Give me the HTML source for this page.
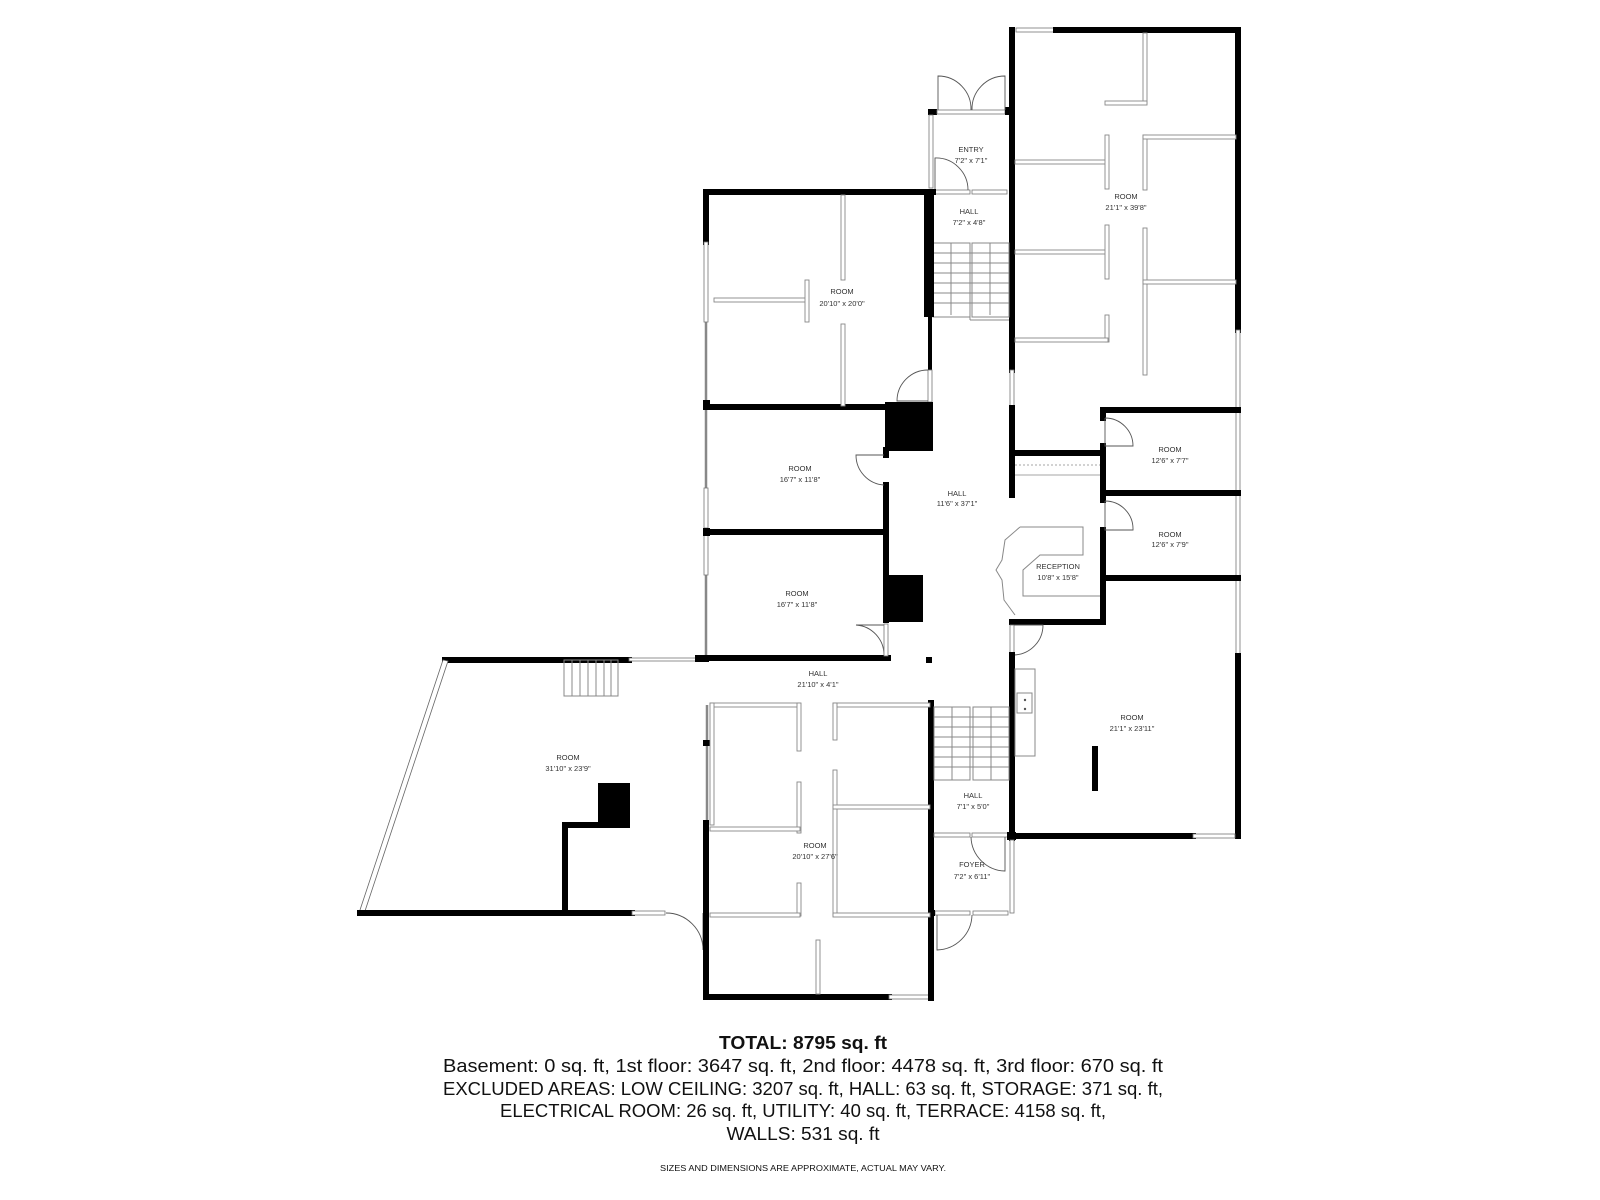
<!DOCTYPE html>
<html><head><meta charset="utf-8"><style>
html,body{margin:0;padding:0;background:#fff;}
svg{display:block;}
.w{stroke:#000;stroke-width:6;stroke-linecap:square;fill:none;}
.wt{stroke:#000;stroke-width:4;stroke-linecap:square;fill:none;}
.win{fill:#fff;stroke:#777;stroke-width:0.8;}
.p{fill:#fff;stroke:#888;stroke-width:0.9;}
.d{fill:none;stroke:#555;stroke-width:0.9;}
.thin{stroke:#888;stroke-width:1;fill:none;}
.lb{font-family:"Liberation Sans",sans-serif;font-size:7.5px;fill:#333;text-anchor:middle;}
.t{font-family:"Liberation Sans",sans-serif;fill:#111;text-anchor:middle;}
</style></head><body>
<svg width="1600" height="1200" viewBox="0 0 1600 1200" xmlns="http://www.w3.org/2000/svg">
<rect width="1600" height="1200" fill="#fff"/>

<!-- ===== Big right room (21'1 x 39'8) ===== -->
<rect class="win" x="1016" y="28" width="40" height="4"/>
<line class="w" x1="1056" y1="30" x2="1238" y2="30"/>
<line class="w" x1="1012" y1="30" x2="1012" y2="370"/>
<rect class="win" x="1010" y="370" width="4" height="38"/>
<line class="w" x1="1012" y1="408" x2="1012" y2="495"/>
<line class="w" x1="1238" y1="30" x2="1238" y2="330"/>
<rect class="win" x="1236" y="330" width="4" height="326"/>
<line class="w" x1="1238" y1="656" x2="1238" y2="836"/>
<rect x="1235" y="407" width="6" height="6"/><rect x="1235" y="490" width="6" height="6"/><rect x="1235" y="575" width="6" height="6"/>
<!-- partitions -->
<rect class="p" x="1015" y="160" width="93" height="4"/>
<rect class="p" x="1105" y="135" width="4" height="54"/>
<rect class="p" x="1143" y="33" width="4" height="71"/>
<rect class="p" x="1105" y="101" width="42" height="4"/>
<rect class="p" x="1143" y="135" width="4" height="55"/>
<rect class="p" x="1143" y="135" width="93" height="4"/>
<rect class="p" x="1015" y="250" width="93" height="4"/>
<rect class="p" x="1105" y="225" width="4" height="54"/>
<rect class="p" x="1105" y="315" width="4" height="27"/>
<rect class="p" x="1015" y="338" width="93" height="4"/>
<rect class="p" x="1143" y="228" width="4" height="147"/>
<rect class="p" x="1143" y="280" width="93" height="4"/>

<!-- ===== Entry ===== -->
<rect x="928" y="109" width="9" height="6"/>
<rect class="win" x="937" y="110" width="68" height="4"/>
<line class="w" x1="1008" y1="110" x2="1008" y2="112"/>
<rect class="win" x="929" y="115" width="4" height="73"/>
<path class="d" d="M938 110 V76 A33 33 0 0 1 971 110"/>
<path class="d" d="M1005 110 V76 A33 33 0 0 0 972 110"/>
<rect class="win" x="935" y="190" width="35" height="4"/>
<rect class="win" x="972" y="190" width="35" height="4"/>
<path class="d" d="M935 190 V158 A32 32 0 0 1 968 190"/>
<!-- stairs upper -->
<g class="thin">
<rect x="933" y="243" width="37" height="74"/>
<rect x="972" y="243" width="37" height="74"/>
<line x1="970" y1="243" x2="970" y2="320"/><line x1="970" y1="320" x2="1009" y2="320"/>
<line x1="951" y1="243" x2="951" y2="315"/><line x1="990" y1="243" x2="990" y2="315"/>
<line x1="933" y1="253" x2="1009" y2="253"/><line x1="933" y1="263" x2="1009" y2="263"/>
<line x1="933" y1="273" x2="1009" y2="273"/><line x1="933" y1="283" x2="1009" y2="283"/>
<line x1="933" y1="293" x2="1009" y2="293"/><line x1="933" y1="303" x2="1009" y2="303"/>
</g>

<!-- ===== 20'10 x 20'0 room ===== -->
<line class="w" x1="706" y1="192" x2="933" y2="192"/>
<rect x="924" y="190" width="10" height="127"/>
<line class="wt" x1="930" y1="317" x2="930" y2="370"/>
<rect class="win" x="928" y="370" width="4" height="32"/>
<path class="d" d="M928 401 H897 A31 31 0 0 1 928 370"/>
<line class="w" x1="706" y1="192" x2="706" y2="242"/>
<line x1="706" y1="242" x2="706" y2="660" stroke="#888" stroke-width="2.5"/>
<rect class="win" x="704" y="242" width="4" height="80"/>
<rect class="win" x="704" y="488" width="4" height="40"/>
<rect class="win" x="704" y="535" width="4" height="40"/>
<rect x="703" y="400" width="7" height="10"/><rect x="703" y="528" width="7" height="8"/><rect x="697" y="655" width="12" height="7"/>
<line class="w" x1="706" y1="407" x2="885" y2="407"/>
<rect x="885" y="402" width="48" height="49"/>
<rect class="p" x="841" y="195" width="4" height="85"/>
<rect class="p" x="841" y="324" width="4" height="82"/>
<rect class="p" x="714" y="298" width="94" height="4"/>
<rect class="p" x="805" y="280" width="4" height="42"/>

<!-- ===== 16'7 rooms ===== -->
<line class="w" x1="886" y1="450" x2="886" y2="455"/>
<line class="w" x1="886" y1="485" x2="886" y2="620"/>
<path class="d" d="M884 455 H856 A30 30 0 0 0 884 485"/>
<line class="w" x1="706" y1="532" x2="886" y2="532"/>
<rect x="886" y="575" width="37" height="47"/>
<path class="d" d="M884 625 H856 A30 30 0 0 1 884 655" transform="translate(0,0)"/>
<line class="w" x1="698" y1="658" x2="888" y2="658"/>
<rect class="win" x="884" y="624" width="4" height="32"/>
<rect x="926" y="657" width="6" height="6"/>

<!-- ===== Hall right side / small rooms ===== -->
<line class="w" x1="1012" y1="453" x2="1103" y2="453"/>
<line x1="1015" y1="465" x2="1100" y2="465" stroke="#888" stroke-width="0.8" stroke-dasharray="2,2"/>
<line x1="1015" y1="475" x2="1100" y2="475" stroke="#888" stroke-width="0.8"/>
<line class="w" x1="1103" y1="410" x2="1103" y2="418"/>
<line class="w" x1="1103" y1="446" x2="1103" y2="500"/>
<line class="w" x1="1103" y1="530" x2="1103" y2="622"/>
<path class="d" d="M1105 418 V446 H1133 A28 28 0 0 0 1105 418"/>
<path class="d" d="M1105 501 V530 H1133 A28 28 0 0 0 1105 501"/>
<line class="w" x1="1103" y1="410" x2="1238" y2="410"/>
<line class="w" x1="1103" y1="493" x2="1238" y2="493"/>
<line class="w" x1="1103" y1="578" x2="1238" y2="578"/>
<line class="w" x1="1012" y1="622" x2="1103" y2="622"/>
<!-- reception counter -->
<path class="thin" d="M1020 527 H1083 V555 H1040 L1023 570 V596 H1100 M1100 596 M1020 527 L1005 540 L1002 560 L996 570 L1002 580 L1004 600 L1015 615"/>

<!-- ===== Room 21'1 x 23'11 ===== -->
<rect class="win" x="1010" y="625" width="4" height="30"/>
<path class="d" d="M1014 625 H1043 A30 30 0 0 1 1014 655"/>
<line class="w" x1="1012" y1="655" x2="1012" y2="838"/>
<line class="w" x1="1012" y1="836" x2="1193" y2="836"/>
<rect class="win" x="1193" y="834" width="42" height="4"/>
<rect x="1092" y="746" width="6" height="45"/>
<rect class="thin" x="1015" y="669" width="20" height="87"/>
<rect class="thin" x="1017" y="693" width="15" height="20"/>
<circle cx="1025" cy="700" r="1.2" fill="#555"/><circle cx="1025" cy="709" r="1.2" fill="#555"/>

<!-- ===== Lower stairs / hall 7'1 / foyer ===== -->
<line class="w" x1="931" y1="703" x2="931" y2="998"/>
<g class="thin">
<rect x="934" y="707" width="36" height="73"/>
<rect x="973" y="707" width="36" height="73"/>
<line x1="952" y1="707" x2="952" y2="780"/><line x1="991" y1="707" x2="991" y2="780"/>
<line x1="934" y1="717" x2="1009" y2="717"/><line x1="934" y1="727" x2="1009" y2="727"/>
<line x1="934" y1="737" x2="1009" y2="737"/><line x1="934" y1="747" x2="1009" y2="747"/>
<line x1="934" y1="757" x2="1009" y2="757"/><line x1="934" y1="767" x2="1009" y2="767"/>
</g>
<rect class="win" x="934" y="833" width="36" height="4"/>
<rect class="win" x="972" y="833" width="36" height="4"/>
<rect x="1007" y="832" width="9" height="8"/>
<path class="d" d="M971 837 A35 35 0 0 0 1005 871 V837"/>
<rect class="win" x="1010" y="840" width="4" height="73"/>
<rect class="win" x="935" y="911" width="35" height="4"/>
<rect class="win" x="973" y="911" width="35" height="4"/>
<rect x="928" y="910" width="7" height="6"/>
<path class="d" d="M937 915 V950 A36 36 0 0 0 972 915"/>

<!-- ===== Left big room 31'10 x 23'9 ===== -->
<line class="w" x1="445" y1="660" x2="629" y2="660"/>
<rect class="win" x="629" y="658" width="69" height="3"/>
<rect x="695" y="655" width="8" height="7"/>
<polygon points="443,660 448,661 364,914 359,913" fill="#fff" stroke="#666" stroke-width="0.8"/>
<line class="w" x1="360" y1="913" x2="632" y2="913"/>
<rect class="win" x="632" y="911" width="33" height="4"/>
<path class="d" d="M666 913 V950 A37 37 0 0 1 703 913" transform="matrix(-1 0 0 1 1369 0)"/>
<line class="w" x1="565" y1="825" x2="565" y2="913"/>
<line class="w" x1="565" y1="825" x2="598" y2="825"/>
<rect x="598" y="783" width="32" height="45"/>
<g class="thin">
<rect x="564" y="660" width="54" height="36"/>
<line x1="572" y1="660" x2="572" y2="696"/><line x1="580" y1="660" x2="580" y2="696"/>
<line x1="588" y1="660" x2="588" y2="696"/><line x1="596" y1="660" x2="596" y2="696"/>
<line x1="604" y1="660" x2="604" y2="696"/><line x1="611" y1="660" x2="611" y2="696"/>
</g>

<!-- ===== Lower room 20'10 x 27'6 ===== -->
<line x1="707" y1="705" x2="707" y2="823" stroke="#888" stroke-width="2.5"/>
<rect x="703" y="740" width="7" height="6"/>
<line class="w" x1="706" y1="823" x2="706" y2="997"/>
<line class="w" x1="706" y1="997" x2="889" y2="997"/>
<rect class="win" x="889" y="995" width="40" height="4"/>
<line class="w" x1="931" y1="997" x2="931" y2="997"/>
<rect class="p" x="710" y="703" width="90" height="4"/>
<rect class="p" x="710" y="703" width="4" height="122"/>
<rect class="p" x="797" y="703" width="4" height="48"/>
<rect class="p" x="833" y="703" width="97" height="4"/>
<rect class="p" x="833" y="703" width="4" height="37"/>
<rect class="p" x="797" y="782" width="4" height="51"/>
<rect class="p" x="710" y="827" width="90" height="4"/>
<rect class="p" x="833" y="770" width="4" height="146"/>
<rect class="p" x="833" y="805" width="97" height="4"/>
<rect class="p" x="797" y="883" width="4" height="33"/>
<rect class="p" x="710" y="913" width="90" height="4"/>
<rect class="p" x="833" y="913" width="97" height="4"/>
<rect class="p" x="816" y="940" width="4" height="54"/>

<!-- ===== Labels ===== -->
<text class="lb" x="971" y="152">ENTRY</text><text class="lb" x="971" y="163">7'2" x 7'1"</text>
<text class="lb" x="969" y="214">HALL</text><text class="lb" x="969" y="225">7'2" x 4'8"</text>
<text class="lb" x="1126" y="199">ROOM</text><text class="lb" x="1126" y="210">21'1" x 39'8"</text>
<text class="lb" x="842" y="294">ROOM</text><text class="lb" x="842" y="306">20'10" x 20'0"</text>
<text class="lb" x="800" y="471">ROOM</text><text class="lb" x="800" y="482">16'7" x 11'8"</text>
<text class="lb" x="797" y="596">ROOM</text><text class="lb" x="797" y="607">16'7" x 11'8"</text>
<text class="lb" x="957" y="496">HALL</text><text class="lb" x="957" y="506">11'6" x 37'1"</text>
<text class="lb" x="1058" y="569">RECEPTION</text><text class="lb" x="1058" y="580">10'8" x 15'8"</text>
<text class="lb" x="1170" y="452">ROOM</text><text class="lb" x="1170" y="463">12'6" x 7'7"</text>
<text class="lb" x="1170" y="537">ROOM</text><text class="lb" x="1170" y="547">12'6" x 7'9"</text>
<text class="lb" x="1132" y="720">ROOM</text><text class="lb" x="1132" y="731">21'1" x 23'11"</text>
<text class="lb" x="818" y="676">HALL</text><text class="lb" x="818" y="687">21'10" x 4'1"</text>
<text class="lb" x="568" y="760">ROOM</text><text class="lb" x="568" y="771">31'10" x 23'9"</text>
<text class="lb" x="815" y="848">ROOM</text><text class="lb" x="815" y="859">20'10" x 27'6"</text>
<text class="lb" x="973" y="798">HALL</text><text class="lb" x="973" y="809">7'1" x 5'0"</text>
<text class="lb" x="972" y="867">FOYER</text><text class="lb" x="972" y="879">7'2" x 6'11"</text>

<!-- ===== Footer text ===== -->
<text class="t" x="803" y="1049" font-size="18" font-weight="bold" textLength="168" lengthAdjust="spacingAndGlyphs">TOTAL: 8795 sq. ft</text>
<text class="t" x="803" y="1072" font-size="18" textLength="720" lengthAdjust="spacingAndGlyphs">Basement: 0 sq. ft, 1st floor: 3647 sq. ft, 2nd floor: 4478 sq. ft, 3rd floor: 670 sq. ft</text>
<text class="t" x="803" y="1095" font-size="18" textLength="720" lengthAdjust="spacingAndGlyphs">EXCLUDED AREAS: LOW CEILING: 3207 sq. ft, HALL: 63 sq. ft, STORAGE: 371 sq. ft,</text>
<text class="t" x="803" y="1117" font-size="18" textLength="606" lengthAdjust="spacingAndGlyphs">ELECTRICAL ROOM: 26 sq. ft, UTILITY: 40 sq. ft, TERRACE: 4158 sq. ft,</text>
<text class="t" x="803" y="1140" font-size="18" textLength="153" lengthAdjust="spacingAndGlyphs">WALLS: 531 sq. ft</text>
<text class="t" x="803" y="1171" font-size="8" textLength="286" lengthAdjust="spacingAndGlyphs">SIZES AND DIMENSIONS ARE APPROXIMATE, ACTUAL MAY VARY.</text>
</svg>
</body></html>
